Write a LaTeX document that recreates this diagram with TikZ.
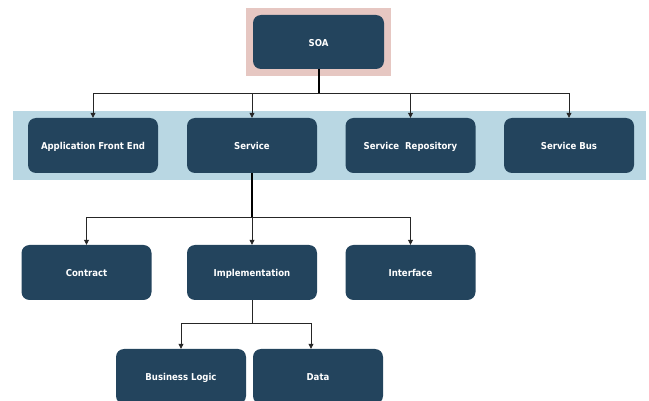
\documentclass[tikz,border=0pt]{standalone}
\usepackage{fontspec}
\setmainfont{DejaVu Sans Condensed}
\usetikzlibrary{arrows.meta}
\definecolor{navy}{HTML}{23445D}
\definecolor{pinkbg}{HTML}{E6C7C2}
\definecolor{bluebg}{HTML}{B9D7E3}
\tikzset{
  box/.style={draw=none, fill=navy, rounded corners=8pt, minimum width=130pt, minimum height=55pt,
    text=white, font=\fontsize{9.5}{11}\selectfont\bfseries, inner sep=0pt,
    text height=9pt, text depth=0pt},
  stem/.style={line width=1.4pt, black},
  branch/.style={line width=0.8pt, black!85, -{Triangle[width=5pt,length=5pt]}},
}
\begin{document}
\begin{tikzpicture}[x=1pt,y=-1pt]
\useasboundingbox (0,0) rectangle (649,401);
\clip (0,0) rectangle (649,401);
\fill[pinkbg] (246,8) rectangle (391,76);
\fill[bluebg] (13,111) rectangle (646,180);
\node[box, minimum width=131pt, minimum height=54pt] (soa) at (318.5,42) {SOA};
\node[box] (afe) at (93,145.5) {Application Front End};
\node[box] (svc) at (252,145.5) {Service};
\node[box] (rep) at (410.5,145.5) {Service\ \ Repository};
\node[box] (bus) at (569,145.5) {Service Bus};
\node[box] (con) at (86.5,272.5) {Contract};
\node[box] (imp) at (252,272.5) {Implementation};
\node[box] (itf) at (410.5,272.5) {Interface};
\node[box] (bl) at (181,376.5) {Business Logic};
\node[box] (dat) at (318,376.5) {Data};
\coordinate (j1) at (319,93);
\coordinate (j2) at (252,217);
\coordinate (j3) at (252,323);
\draw[stem] (soa.south -| j1) -- (j1);
\draw[branch] (j1) -| (afe.north);
\draw[branch] (j1) -| (svc.north);
\draw[branch] (j1) -| (rep.north);
\draw[branch] (j1) -| (bus.north);
\draw[stem] (svc.south) -- (j2);
\draw[branch] (j2) -| (con.north);
\draw[branch] (j2) -- (imp.north);
\draw[branch] (j2) -| (itf.north);
\draw[line width=0.9pt, black!85] (imp.south) -- (j3);
\draw[branch] (j3) -| (bl.north);
\draw[branch] (j3) -| ([xshift=-7pt]dat.north);
\end{tikzpicture}
\end{document}
